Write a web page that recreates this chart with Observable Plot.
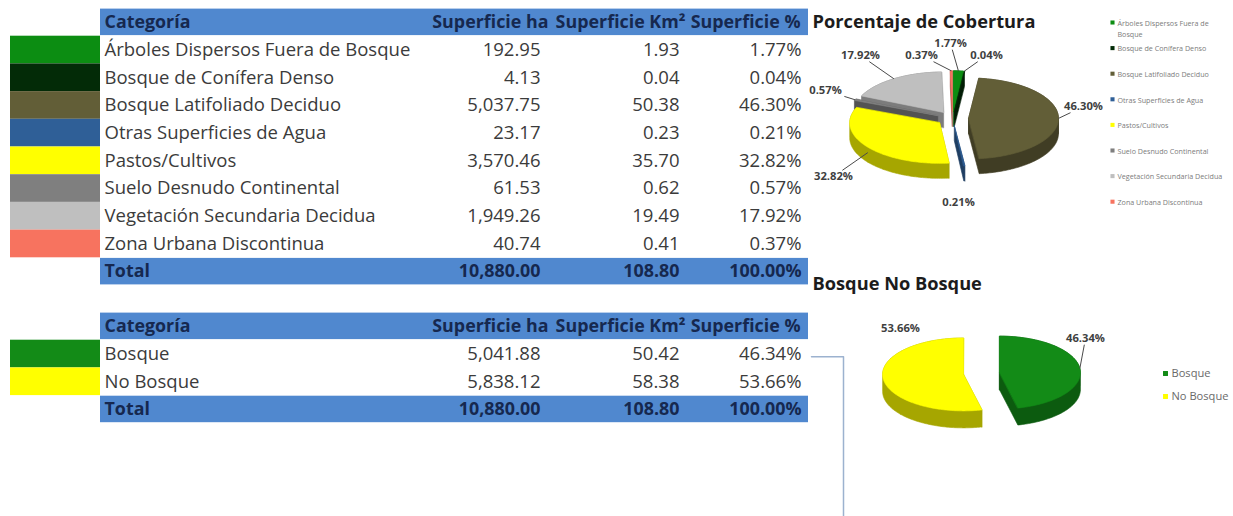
<!DOCTYPE html>
<html><head><meta charset="utf-8">
<script src="https://cdn.jsdelivr.net/npm/d3@7"></script>
<script src="https://cdn.jsdelivr.net/npm/@observablehq/plot@0.6"></script>
<style>
html,body{margin:0;padding:0;background:#fff;}
#root{position:relative;width:1233px;height:516px;overflow:hidden;background:#fff;}
#root > svg{position:absolute;display:block;}
</style></head>
<body><div id="root"></div>
<script>
// ---------------- data ----------------
const headers = ["Categoría", "Superficie ha", "Superficie Km²", "Superficie %"];
const categories = [
  "Árboles Dispersos Fuera de Bosque",
  "Bosque de Conífera Denso",
  "Bosque Latifoliado Deciduo",
  "Otras Superficies de Agua",
  "Pastos/Cultivos",
  "Suelo Desnudo Continental",
  "Vegetación Secundaria Decidua",
  "Zona Urbana Discontinua"
];
const hectares = [192.95, 4.13, 5037.75, 23.17, 3570.46, 61.53, 1949.26, 40.74];
const squareKm = [1.93, 0.04, 50.38, 0.23, 35.70, 0.62, 19.49, 0.41];
const percents = [1.77, 0.04, 46.30, 0.21, 32.82, 0.57, 17.92, 0.37];
const totalValues = [10880.00, 108.80, 100.00];

const forestCategories = ["Bosque", "No Bosque"];
const forestHectares = [5041.88, 5838.12];
const forestKm = [50.42, 58.38];
const forestPercents = [46.34, 53.66];

// ---------------- styles / layout ----------------
const categoryColors = ["#0c8d12", "#032b07", "#625e37", "#2f5f97", "#ffff00", "#7f7f7f", "#bfbfbf", "#f7735f"];
const forestColors = ["#138b17", "#ffff00"];
const FONT = "'Open Sans', sans-serif";
const BLUE = "#5088cf", NAVY = "#16284f", TEXT = "#3b3b3b", LABEL = "#3f3f3f";
const ROW_H = 27.7;
const COL = {nameX: 104, swatch: [10, 100], bar: [100, 808], valueRight: [540, 679, 801], headerRight: [548, 685, 800]};

const ctx = document.createElement("canvas").getContext("2d");
function measure(text, size, weight) {
  ctx.font = `${weight} ${size}px ${FONT}`;
  return ctx.measureText(text).width;
}
function fit(text, target, weight) { return 100 * target / measure(text, 100, weight); }
function wrap(text, maxW, size) {
  const lines = [];
  let line = "";
  for (const w of text.split(" ")) {
    const t = line ? line + " " + w : w;
    if (line && measure(t, size, "normal") > maxW) { lines.push(line); line = w; }
    else line = t;
  }
  lines.push(line);
  return lines.join("\n");
}
const bodySize = fit(categories[0], 306, "normal");
const headSize = fit(headers[2], 130, "bold");
const titleSize = fit("Porcentaje de Cobertura", 223, "bold");
const labelSize = fit("46.30%", 39, "bold");
const legendSize = fit("Vegetación Secundaria Decidua", 105, "normal");
const legend2Size = fit("No Bosque", 57, "normal");

const fmtN = d3.format(",.2f");
const fmtP = v => d3.format(".2f")(v) + "%";

const root = document.getElementById("root");
function place(svg, left, top) {
  svg.style.left = left + "px";
  svg.style.top = top + "px";
  root.append(svg);
}

// ---------------- tables ----------------
function makeTable({names, ha, km, pct, colors, width, height, connector}) {
  const n = names.length + 2;
  const body = names.map((name, i) => ({row: i + 1, name, ha: ha[i], km: km[i], pct: pct[i], color: colors[i]}));
  const total = {row: n - 1, name: "Total", ha: totalValues[0], km: totalValues[1], pct: totalValues[2]};
  const mid = d => d.row + 0.5;
  const keys = ["ha", "km", "pct"];
  const valueText = (d, key) => key === "pct" ? fmtP(d[key]) : fmtN(d[key]);
  const marks = [
    Plot.rect([0, n - 1], {x1: () => COL.bar[0], x2: () => COL.bar[1], y1: r => r, y2: r => r + 1, fill: BLUE, insetTop: 0.6, insetBottom: 0.6}),
    Plot.rect(body, {x1: () => COL.swatch[0], x2: () => COL.swatch[1], y1: "row", y2: d => d.row + 1, fill: "color"}),
    Plot.text([headers[0]], {x: () => COL.nameX, y: () => 0.5, text: d => d, textAnchor: "start", fontWeight: "bold", fill: NAVY, fontSize: headSize}),
    Plot.text(headers.slice(1), {x: (d, i) => COL.headerRight[i], y: () => 0.5, text: d => d, textAnchor: "end", fontWeight: "bold", fill: NAVY, fontSize: headSize}),
    Plot.text(body, {x: () => COL.nameX, y: mid, text: "name", textAnchor: "start", fill: TEXT, fontSize: bodySize}),
    ...keys.map((key, j) => Plot.text(body, {x: () => COL.valueRight[j], y: mid, text: d => valueText(d, key), textAnchor: "end", fill: TEXT, fontSize: bodySize})),
    Plot.text([total], {x: () => COL.nameX, y: mid, text: "name", textAnchor: "start", fontWeight: "bold", fill: NAVY, fontSize: headSize}),
    ...keys.map((key, j) => Plot.text([total], {x: () => COL.valueRight[j], y: mid, text: d => valueText(d, key), textAnchor: "end", fontWeight: "bold", fill: NAVY, fontSize: headSize}))
  ];
  if (connector) marks.push(Plot.line([[811, 1.6], [843, 1.6], [843, height / ROW_H]], {stroke: "#9cb2cf", strokeWidth: 1.5}));
  return Plot.plot({
    width, height, margin: 0,
    x: {type: "linear", domain: [0, width], range: [0, width], axis: null},
    y: {type: "linear", domain: [0, n], range: [0, n * ROW_H], axis: null},
    color: {type: "identity"},
    style: {fontFamily: FONT, background: "transparent", overflow: "visible"},
    marks
  });
}

// ---------------- 3D pies ----------------
function pieMarks({values, colors, cx, cy, R, tilt, explode, depth, labelOffsets, leaders}) {
  const arcs = d3.pie().sort(null).value(v => v)(values);
  const slices = arcs.map((a, i) => {
    const a0 = a.startAngle, a1 = a.endAngle, mid = (a0 + a1) / 2;
    const ox = explode * Math.sin(mid), oy = -explode * tilt * Math.cos(mid);
    const P = (ang, dy = 0) => [cx + ox + R * Math.sin(ang), cy + oy - R * tilt * Math.cos(ang) + dy];
    const apex = [cx + ox, cy + oy];
    const arcPts = (b0, b1) => {
      const n = Math.max(2, Math.ceil((b1 - b0) / 0.02));
      return d3.range(n + 1).map(k => P(b0 + (b1 - b0) * k / n));
    };
    const pieces = Math.max(1, Math.ceil((a1 - a0) / (Math.PI / 2)));
    const sides = d3.range(pieces).map(k => {
      const pts = [apex, ...arcPts(a0 + (a1 - a0) * k / pieces, a0 + (a1 - a0) * (k + 1) / pieces)];
      return d3.polygonHull(pts.concat(pts.map(([x, y]) => [x, y + depth])));
    }).filter(h => h && h.length > 2);
    const front = -Math.cos(mid);
    return {
      i, value: values[i], color: colors[i],
      side: d3.color(colors[i]).darker(1.2).formatHex(),
      top: [apex, ...arcPts(a0, a1)], sides, front,
      rim: P(mid, depth * Math.max(0, front) * 0.6)
    };
  });
  const polys = [];
  let k = 0;
  const push = (pts, fill) => { const id = k++; pts.forEach(([x, y]) => polys.push({id, x, y, fill})); };
  const ordered = d3.sort(slices, s => s.front);
  ordered.forEach(s => s.sides.forEach(p => push(p, s.side)));
  ordered.forEach(s => push(s.top, s.color));

  const labels = slices.map((s, i) => {
    const lx = cx + labelOffsets[i][0], ly = cy + labelOffsets[i][1];
    const txt = fmtP(s.value);
    const [rx, ry] = s.rim;
    const vx = rx - lx, vy = ry - ly;
    const hw = txt.length * labelSize * 0.3 + 2, hh = labelSize * 0.55;
    const t = Math.min(hw / Math.max(Math.abs(vx), 1e-6), hh / Math.max(Math.abs(vy), 1e-6));
    return {lx, ly, txt, x1: lx + vx * t, y1: ly + vy * t, x2: rx, y2: ry, leader: leaders[i] && t < 1};
  });
  return [
    Plot.line(polys, {x: "x", y: "y", z: "id", fill: "fill", stroke: "fill", strokeWidth: 0.6, curve: "linear-closed"}),
    Plot.link(labels.filter(d => d.leader), {x1: "x1", y1: "y1", x2: "x2", y2: "y2", stroke: "#4a4a4a", strokeWidth: 1}),
    Plot.text(labels, {x: "lx", y: "ly", text: "txt", fontWeight: "bold", fontSize: labelSize, fill: LABEL})
  ];
}

function piePlot({width, height, title, marks}) {
  return Plot.plot({
    width, height, margin: 0,
    x: {type: "linear", domain: [0, width], range: [0, width], axis: null},
    y: {type: "linear", domain: [0, height], range: [0, height], axis: null},
    color: {type: "identity"},
    style: {fontFamily: FONT, background: "transparent", overflow: "visible"},
    marks: [
      Plot.text([title], {x: () => 12, y: () => 22, text: d => d, textAnchor: "start", fontWeight: "bold", fontSize: titleSize, fill: "#1c1c1c"}),
      ...marks
    ]
  });
}

// table 1
place(makeTable({names: categories, ha: hectares, km: squareKm, pct: percents, colors: categoryColors, width: 812, height: 10 * ROW_H}), 0, 7.5);
// table 2
place(makeTable({names: forestCategories, ha: forestHectares, km: forestKm, pct: forestPercents, colors: forestColors, width: 850, height: 516 - 312, connector: true}), 0, 312);

// pie 1 : Porcentaje de Cobertura
const legend1 = categories.map((c, i) => ({c: wrap(c, 108, legendSize), i, color: categoryColors[i]}));
place(piePlot({
  width: 433, height: 220, title: "Porcentaje de Cobertura",
  marks: [
    ...pieMarks({
      values: percents, colors: categoryColors, cx: 152, cy: 118, R: 90, tilt: 0.45, explode: 16, depth: 15,
      labelOffsets: [[-2, -75], [34, -63], [131, -12], [6, 84], [-119, 58], [-127, -28], [-92, -63], [-31, -63]],
      leaders: [true, true, true, false, true, true, true, true]
    }),
    Plot.dot(legend1, {x: () => 312, y: d => 22 + 25.6 * d.i, symbol: "square", r: 2.3, fill: "color"}),
    Plot.text(legend1, {x: () => 317, y: d => 22 + 25.6 * d.i, dy: -legendSize * 0.6, text: "c", lineAnchor: "top", lineHeight: 1.5, textAnchor: "start", fontSize: legendSize, fill: "#7c7c7c"})
  ]
}), 800, 0);

// pie 2 : Bosque No Bosque
const legend2 = forestCategories.map((c, i) => ({c, i, color: forestColors[i]}));
place(piePlot({
  width: 433, height: 254, title: "Bosque No Bosque",
  marks: [
    ...pieMarks({
      values: forestPercents, colors: forestColors, cx: 181, cy: 111, R: 81, tilt: 0.45, explode: 18, depth: 17,
      labelOffsets: [[104, -35], [-81, -45]],
      leaders: [true, false]
    }),
    Plot.dot(legend2, {x: () => 365, y: d => 111 + 23 * d.i, symbol: "square", r: 2.8, fill: "color"}),
    Plot.text(legend2, {x: () => 371, y: d => 111 + 23 * d.i, text: "c", textAnchor: "start", fontSize: legend2Size, fill: "#6a6a6a"})
  ]
}), 800, 262);
</script>
</body></html>
